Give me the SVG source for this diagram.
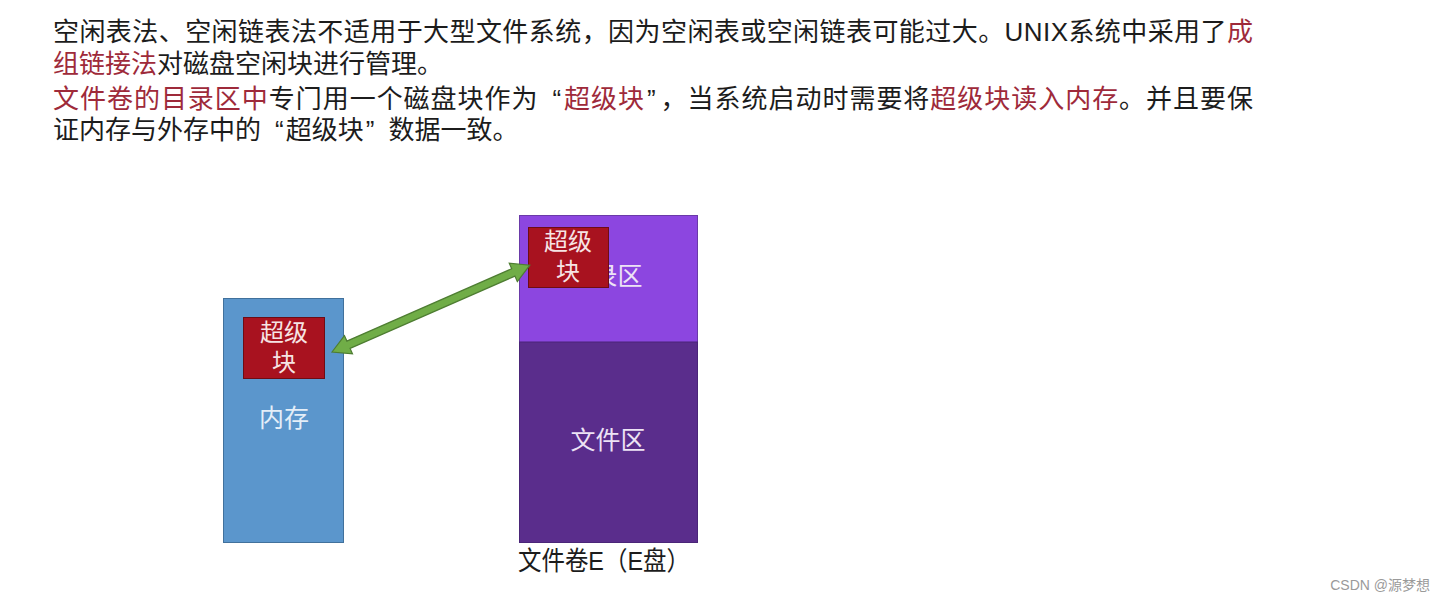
<svg xmlns="http://www.w3.org/2000/svg" width="1445" height="602" viewBox="0 0 1445 602">
<style>
.t{font-family:"Liberation Sans","Noto Sans CJK SC",sans-serif;font-size:26px;fill:#1c1c1c}
.r{fill:#9E2A3A}
.lab{font-family:"Liberation Sans","Noto Sans CJK SC",sans-serif;font-size:25px;fill:#EDE3F5;text-anchor:middle}
.sb{fill:#A8121F;stroke:#6E0C14;stroke-width:1}
.sbt{font-family:"Liberation Sans","Noto Sans CJK SC",sans-serif;font-size:24px;fill:#F6E4E4;text-anchor:middle}
</style>
<rect width="1445" height="602" fill="#ffffff"/>
<g id="text">
<text class="t" x="53" y="41" textLength="1200" lengthAdjust="spacing">空闲表法、空闲链表法不适用于大型文件系统，因为空闲表或空闲链表可能过大。UNIX系统中采用了<tspan class="r">成</tspan></text>
<text class="t" x="53" y="73"><tspan class="r">组链接法</tspan>对磁盘空闲块进行管理。</text>
<text class="t" x="53" y="107.5" textLength="1200" lengthAdjust="spacing"><tspan class="r">文件卷的目录区中</tspan>专门用一个磁盘块作为<tspan dx="14">“</tspan><tspan class="r" dx="2">超级块</tspan><tspan dx="2">”</tspan><tspan dx="4">，</tspan>当系统启动时需要将<tspan class="r">超级块读入内存</tspan>。并且要保</text>
<text class="t" x="53" y="139">证内存与外存中的<tspan dx="14">“</tspan><tspan dx="2">超级块</tspan><tspan dx="2">”</tspan><tspan dx="14">数</tspan>据一致。</text>
</g>
<g id="memory">
<rect x="223.5" y="298.5" width="120" height="244" fill="#5B96CC" stroke="#41719C" stroke-width="1"/>
<text class="lab" x="284" y="427" style="fill:#E4EEF8">内存</text>
</g>
<g id="memory-superblock">
<rect class="sb" x="243.5" y="317.5" width="81" height="61"/>
<text class="sbt" x="284" y="341">超级</text>
<text class="sbt" x="284" y="371">块</text>
</g>
<g id="volume">
<rect x="519.5" y="215.5" width="178" height="127" fill="#8C46E0" stroke="#6A3AA8" stroke-width="1"/>
<text class="lab" x="605" y="285">目录区</text>
<rect x="519.5" y="342" width="178" height="200.5" fill="#5A2D8C" stroke="#4A2578" stroke-width="1"/>
<text class="lab" x="608" y="449">文件区</text>
<text class="t" x="518" y="570" textLength="172" lengthAdjust="spacingAndGlyphs">文件卷E（E盘）</text>
</g>
<g id="volume-superblock">
<rect class="sb" x="528.5" y="227.5" width="80" height="60"/>
<text class="sbt" x="568" y="250">超级</text>
<text class="sbt" x="568" y="280">块</text>
</g>
<g id="connectors">
<polygon transform="translate(332,352) rotate(-23.7)" points="0,0 18,-10 18,-4 198,-4 198,-10 216,0 198,10 198,4 18,4 18,10" fill="#70AD47" stroke="#4E7D32" stroke-width="1.2" stroke-linejoin="miter"/>
</g>
<text x="1430" y="590" style="font-family:'Liberation Sans','Noto Sans CJK SC',sans-serif;font-size:14px;fill:#9a9a9a;text-anchor:end">CSDN @源梦想</text>
</svg>
